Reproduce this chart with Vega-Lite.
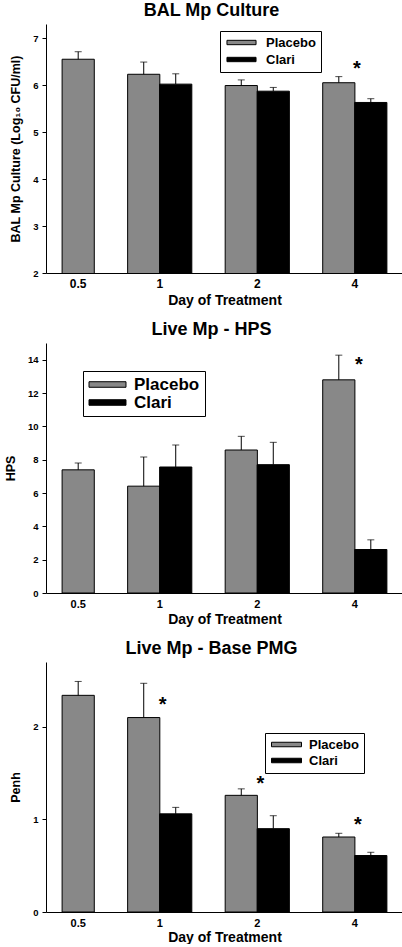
{
  "$schema": "https://vega.github.io/schema/vega-lite/v6.json",
  "padding": {"left": 4, "top": 2, "right": 0, "bottom": 0},
  "spacing": 14,
  "background": "white",
  "config": {
    "font": "Liberation Sans",
    "view": {"stroke": null},
    "axis": {"grid": false, "domainColor": "black", "tickColor": "black", "labelColor": "black", "titleColor": "black", "labelFontWeight": "bold", "titleFontWeight": "bold", "labelFont": "Liberation Sans", "titleFont": "Liberation Sans"},
    "title": {"fontSize": 18, "fontWeight": "bold", "color": "black", "font": "Liberation Sans"},
    "legend": {"labelFont": "Liberation Sans"}
  },
  "datasets": {
    "bal": [
      {"day": "0.5", "group": "Placebo", "value": 6.55, "upper": 6.71},
      {"day": "1", "group": "Placebo", "value": 6.23, "upper": 6.49},
      {"day": "1", "group": "Clari", "value": 6.02, "upper": 6.24},
      {"day": "2", "group": "Placebo", "value": 5.99, "upper": 6.11},
      {"day": "2", "group": "Clari", "value": 5.87, "upper": 5.95},
      {"day": "4", "group": "Placebo", "value": 6.05, "upper": 6.18},
      {"day": "4", "group": "Clari", "value": 5.63, "upper": 5.71}
    ],
    "bal_stars": [{"day": "4", "star": 6.44}],
    "hps": [
      {"day": "0.5", "group": "Placebo", "value": 7.39, "upper": 7.80},
      {"day": "1", "group": "Placebo", "value": 6.41, "upper": 8.16},
      {"day": "1", "group": "Clari", "value": 7.56, "upper": 8.88},
      {"day": "2", "group": "Placebo", "value": 8.58, "upper": 9.40},
      {"day": "2", "group": "Clari", "value": 7.70, "upper": 9.04},
      {"day": "4", "group": "Placebo", "value": 12.79, "upper": 14.27},
      {"day": "4", "group": "Clari", "value": 2.61, "upper": 3.19}
    ],
    "hps_stars": [{"day": "4", "star": 13.97}],
    "penh": [
      {"day": "0.5", "group": "Placebo", "value": 2.34, "upper": 2.49},
      {"day": "1", "group": "Placebo", "value": 2.10, "upper": 2.47},
      {"day": "1", "group": "Clari", "value": 1.06, "upper": 1.13},
      {"day": "2", "group": "Placebo", "value": 1.26, "upper": 1.33},
      {"day": "2", "group": "Clari", "value": 0.90, "upper": 1.04},
      {"day": "4", "group": "Placebo", "value": 0.81, "upper": 0.85},
      {"day": "4", "group": "Clari", "value": 0.61, "upper": 0.645}
    ],
    "penh_stars": [{"day": "1", "star": 2.29}, {"day": "2", "star": 1.44}, {"day": "4", "star": 0.99}]
  },
  "resolve": {"scale": {"x": "independent", "y": "independent", "color": "independent"}, "legend": {"color": "independent"}},
  "vconcat": [
    {
      "width": 357, "height": 249,
      "title": {"text": "BAL Mp Culture", "dx": -13, "offset": 4},
      "data": {"name": "bal"},
      "encoding": {
        "x": {"field": "day", "type": "ordinal", "scale": {"domain": ["0.5", "1", "2", "4"], "paddingInner": 0.34, "paddingOuter": 0},
          "axis": {"title": "Day of Treatment", "labelAngle": 0, "ticks": false, "labelPadding": 5, "labelFontSize": 12, "titleFontSize": 14, "titlePadding": 4,
            "labelOffset": {"condition": {"test": "datum.value !== '0.5'", "value": -16}, "value": 0}}},
        "y": {"type": "quantitative", "scale": {"domain": [2, 7.3], "zero": false, "nice": false},
          "axis": {"title": "BAL Mp Culture (Log₁₀ CFU/ml)", "values": [2, 3, 4, 5, 6, 7], "tickSize": 4, "labelPadding": 4, "labelFontSize": 9.5, "titleFontSize": 12.5, "titlePadding": 10}}
      },
      "layer": [
        {"transform": [{"filter": "datum.group === 'Placebo' && datum.day !== '0.5'"}],
         "mark": {"type": "bar", "xOffset": -32, "width": {"band": 0.5}, "stroke": "black", "strokeWidth": 1, "clip": true},
         "encoding": {"y": {"field": "value"},
           "color": {"field": "group", "type": "nominal", "scale": {"domain": ["Placebo", "Clari"], "range": ["#888888", "#000000"]},
             "legend": {"title": null, "orient": "none", "legendX": 174, "legendY": 7, "symbolType": "M-3,-0.45H3V0.45H-3Z", "symbolSize": 94, "symbolStrokeColor": "black", "symbolStrokeWidth": 1, "symbolOpacity": 1, "symbolOffset": 10, "labelOffset": 18, "labelFontSize": 13, "labelFontWeight": "bold", "labelColor": "black", "strokeColor": "black", "fillColor": "white", "padding": 5, "rowPadding": 3}}}},
        {"transform": [{"filter": "datum.group === 'Clari' || datum.day === '0.5'"}],
         "mark": {"type": "bar", "xOffset": 0, "width": {"band": 0.5}, "stroke": "black", "strokeWidth": 1, "clip": true},
         "encoding": {"y": {"field": "value"},
           "color": {"field": "group", "type": "nominal", "scale": {"domain": ["Placebo", "Clari"], "range": ["#888888", "#000000"]},
             "legend": {"title": null, "orient": "none", "legendX": 174, "legendY": 7, "symbolType": "M-3,-0.45H3V0.45H-3Z", "symbolSize": 94, "symbolStrokeColor": "black", "symbolStrokeWidth": 1, "symbolOpacity": 1, "symbolOffset": 10, "labelOffset": 18, "labelFontSize": 13, "labelFontWeight": "bold", "labelColor": "black", "strokeColor": "black", "fillColor": "white", "padding": 5, "rowPadding": 3}}}},
        {"transform": [{"filter": "datum.group === 'Placebo' && datum.day !== '0.5'"}],
         "mark": {"type": "rule", "xOffset": -32, "color": "black", "strokeWidth": 1},
         "encoding": {"y": {"field": "value"}, "y2": {"field": "upper"}}},
        {"transform": [{"filter": "datum.group === 'Clari' || datum.day === '0.5'"}],
         "mark": {"type": "rule", "xOffset": 0, "color": "black", "strokeWidth": 1},
         "encoding": {"y": {"field": "value"}, "y2": {"field": "upper"}}},
        {"transform": [{"filter": "datum.group === 'Placebo' && datum.day !== '0.5'"}],
         "mark": {"type": "tick", "xOffset": -32, "color": "black", "size": 7, "thickness": 1},
         "encoding": {"y": {"field": "upper"}}},
        {"transform": [{"filter": "datum.group === 'Clari' || datum.day === '0.5'"}],
         "mark": {"type": "tick", "xOffset": 0, "color": "black", "size": 7, "thickness": 1},
         "encoding": {"y": {"field": "upper"}}},
        {"data": {"name": "bal_stars"},
         "mark": {"type": "text", "text": "*", "xOffset": -14, "fontSize": 20, "fontWeight": "bold", "baseline": "alphabetic", "dy": 11, "color": "black"},
         "encoding": {"y": {"field": "star"}}}
      ]
    },
    {
      "width": 357, "height": 250,
      "title": {"text": "Live Mp - HPS", "dx": -13, "offset": 4},
      "data": {"name": "hps"},
      "encoding": {
        "x": {"field": "day", "type": "ordinal", "scale": {"domain": ["0.5", "1", "2", "4"], "paddingInner": 0.34, "paddingOuter": 0},
          "axis": {"title": "Day of Treatment", "labelAngle": 0, "ticks": false, "labelPadding": 5, "labelFontSize": 11, "titleFontSize": 14, "titlePadding": 3,
            "labelOffset": {"condition": {"test": "datum.value !== '0.5'", "value": -16}, "value": 0}}},
        "y": {"type": "quantitative", "scale": {"domain": [0, 15], "nice": false},
          "axis": {"title": "HPS", "values": [0, 2, 4, 6, 8, 10, 12, 14], "tickSize": 4, "labelPadding": 4, "labelFontSize": 9.5, "titleFontSize": 12.5, "titlePadding": 10}}
      },
      "layer": [
        {"transform": [{"filter": "datum.group === 'Placebo' && datum.day !== '0.5'"}],
         "mark": {"type": "bar", "xOffset": -32, "width": {"band": 0.5}, "stroke": "black", "strokeWidth": 1},
         "encoding": {"y": {"field": "value"},
           "color": {"field": "group", "type": "nominal", "scale": {"domain": ["Placebo", "Clari"], "range": ["#888888", "#000000"]},
             "legend": {"title": null, "orient": "none", "legendX": 37, "legendY": 28, "symbolType": "M-3,-0.45H3V0.45H-3Z", "symbolSize": 152, "symbolStrokeColor": "black", "symbolStrokeWidth": 1, "symbolOpacity": 1, "symbolOffset": 11, "labelOffset": 18, "labelFontSize": 17, "labelFontWeight": "bold", "labelColor": "black", "strokeColor": "black", "fillColor": "white", "padding": 5, "rowPadding": 0}}}},
        {"transform": [{"filter": "datum.group === 'Clari' || datum.day === '0.5'"}],
         "mark": {"type": "bar", "xOffset": 0, "width": {"band": 0.5}, "stroke": "black", "strokeWidth": 1},
         "encoding": {"y": {"field": "value"},
           "color": {"field": "group", "type": "nominal", "scale": {"domain": ["Placebo", "Clari"], "range": ["#888888", "#000000"]},
             "legend": {"title": null, "orient": "none", "legendX": 37, "legendY": 28, "symbolType": "M-3,-0.45H3V0.45H-3Z", "symbolSize": 152, "symbolStrokeColor": "black", "symbolStrokeWidth": 1, "symbolOpacity": 1, "symbolOffset": 11, "labelOffset": 18, "labelFontSize": 17, "labelFontWeight": "bold", "labelColor": "black", "strokeColor": "black", "fillColor": "white", "padding": 5, "rowPadding": 0}}}},
        {"transform": [{"filter": "datum.group === 'Placebo' && datum.day !== '0.5'"}],
         "mark": {"type": "rule", "xOffset": -32, "color": "black", "strokeWidth": 1},
         "encoding": {"y": {"field": "value"}, "y2": {"field": "upper"}}},
        {"transform": [{"filter": "datum.group === 'Clari' || datum.day === '0.5'"}],
         "mark": {"type": "rule", "xOffset": 0, "color": "black", "strokeWidth": 1},
         "encoding": {"y": {"field": "value"}, "y2": {"field": "upper"}}},
        {"transform": [{"filter": "datum.group === 'Placebo' && datum.day !== '0.5'"}],
         "mark": {"type": "tick", "xOffset": -32, "color": "black", "size": 7, "thickness": 1},
         "encoding": {"y": {"field": "upper"}}},
        {"transform": [{"filter": "datum.group === 'Clari' || datum.day === '0.5'"}],
         "mark": {"type": "tick", "xOffset": 0, "color": "black", "size": 7, "thickness": 1},
         "encoding": {"y": {"field": "upper"}}},
        {"data": {"name": "hps_stars"},
         "mark": {"type": "text", "text": "*", "xOffset": -12, "fontSize": 20, "fontWeight": "bold", "baseline": "alphabetic", "dy": 11, "color": "black"},
         "encoding": {"y": {"field": "star"}}}
      ]
    },
    {
      "width": 357, "height": 250,
      "title": {"text": "Live Mp - Base PMG", "dx": -13, "offset": 4},
      "data": {"name": "penh"},
      "encoding": {
        "x": {"field": "day", "type": "ordinal", "scale": {"domain": ["0.5", "1", "2", "4"], "paddingInner": 0.34, "paddingOuter": 0},
          "axis": {"title": "Day of Treatment", "labelAngle": 0, "ticks": false, "labelPadding": 5, "labelFontSize": 11, "titleFontSize": 14, "titlePadding": 2,
            "labelOffset": {"condition": {"test": "datum.value !== '0.5'", "value": -16}, "value": 0}}},
        "y": {"type": "quantitative", "scale": {"domain": [0, 2.7], "nice": false},
          "axis": {"title": "Penh", "values": [0, 1, 2], "tickSize": 4, "labelPadding": 4, "labelFontSize": 9.5, "titleFontSize": 12.5, "titlePadding": 10}}
      },
      "layer": [
        {"transform": [{"filter": "datum.group === 'Placebo' && datum.day !== '0.5'"}],
         "mark": {"type": "bar", "xOffset": -32, "width": {"band": 0.5}, "stroke": "black", "strokeWidth": 1},
         "encoding": {"y": {"field": "value"},
           "color": {"field": "group", "type": "nominal", "scale": {"domain": ["Placebo", "Clari"], "range": ["#888888", "#000000"]},
             "legend": {"title": null, "orient": "none", "legendX": 219, "legendY": 71, "symbolType": "M-3,-0.45H3V0.45H-3Z", "symbolSize": 100, "symbolStrokeColor": "black", "symbolStrokeWidth": 1, "symbolOpacity": 1, "symbolOffset": 10, "labelOffset": 16, "labelFontSize": 13, "labelFontWeight": "bold", "labelColor": "black", "strokeColor": "black", "fillColor": "white", "padding": 5, "rowPadding": 2}}}},
        {"transform": [{"filter": "datum.group === 'Clari' || datum.day === '0.5'"}],
         "mark": {"type": "bar", "xOffset": 0, "width": {"band": 0.5}, "stroke": "black", "strokeWidth": 1},
         "encoding": {"y": {"field": "value"},
           "color": {"field": "group", "type": "nominal", "scale": {"domain": ["Placebo", "Clari"], "range": ["#888888", "#000000"]},
             "legend": {"title": null, "orient": "none", "legendX": 219, "legendY": 71, "symbolType": "M-3,-0.45H3V0.45H-3Z", "symbolSize": 100, "symbolStrokeColor": "black", "symbolStrokeWidth": 1, "symbolOpacity": 1, "symbolOffset": 10, "labelOffset": 16, "labelFontSize": 13, "labelFontWeight": "bold", "labelColor": "black", "strokeColor": "black", "fillColor": "white", "padding": 5, "rowPadding": 2}}}},
        {"transform": [{"filter": "datum.group === 'Placebo' && datum.day !== '0.5'"}],
         "mark": {"type": "rule", "xOffset": -32, "color": "black", "strokeWidth": 1},
         "encoding": {"y": {"field": "value"}, "y2": {"field": "upper"}}},
        {"transform": [{"filter": "datum.group === 'Clari' || datum.day === '0.5'"}],
         "mark": {"type": "rule", "xOffset": 0, "color": "black", "strokeWidth": 1},
         "encoding": {"y": {"field": "value"}, "y2": {"field": "upper"}}},
        {"transform": [{"filter": "datum.group === 'Placebo' && datum.day !== '0.5'"}],
         "mark": {"type": "tick", "xOffset": -32, "color": "black", "size": 7, "thickness": 1},
         "encoding": {"y": {"field": "upper"}}},
        {"transform": [{"filter": "datum.group === 'Clari' || datum.day === '0.5'"}],
         "mark": {"type": "tick", "xOffset": 0, "color": "black", "size": 7, "thickness": 1},
         "encoding": {"y": {"field": "upper"}}},
        {"data": {"name": "penh_stars"},
         "mark": {"type": "text", "text": "*", "xOffset": -13, "fontSize": 20, "fontWeight": "bold", "baseline": "alphabetic", "dy": 11, "color": "black"},
         "encoding": {"y": {"field": "star"}}}
      ]
    }
  ]
}
